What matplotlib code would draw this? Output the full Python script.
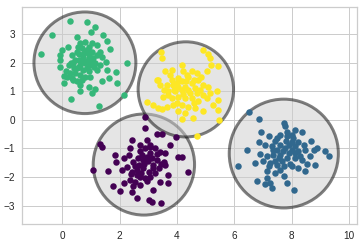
import numpy as np
import matplotlib
matplotlib.use("Agg")
import matplotlib.pyplot as plt

# точки кластеров (x, y)
green_x = [0.28, 0.88, 1.13, 1.00, -0.34, 1.42, -0.74, 0.50, 1.56, 1.67,
           2.26, 1.88, 1.64, 1.92, 1.37, 2.15, 1.28, 0.30, 0.63, 1.03,
           1.15, 0.95, 0.05, 0.08, -0.07, -0.09, -0.01, 0.20, 0.34, 0.39,
           0.53, 0.70, 0.63, 0.28, 0.14, 1.56, 1.51, 1.32, 1.21, 1.32,
           1.21, 1.03, 0.80, 0.63, 0.69, 0.86, 1.03, 0.51, 0.74, 0.92,
           1.09, 0.57, 0.39, 0.22, 0.63, 0.80, 0.98, 1.15, 0.51, 0.74,
           0.92, 0.45, 0.63, 0.80, 0.16, 0.34, 0.98, 1.38, -0.07,
           0.60, 0.75, 0.95, 0.70, 0.88, 1.05, 0.45, 0.60, 0.85, 1.10,
           0.40, 0.30, 1.20, 0.55, 0.95]
green_y = [3.45, 3.41, 3.25, 3.05, 2.97, 2.96, 2.31, 2.90, 2.76, 2.48,
           1.97, 1.66, 1.45, 1.28, 1.37, 0.85, 0.48, 0.72, 0.99, 0.93,
           1.08, 1.14, 1.54, 1.30, 2.09, 1.86, 2.44, 2.53, 2.25, 1.39,
           1.37, 1.39, 1.22, 1.63, 1.69, 1.74, 2.01, 1.92, 1.74, 2.38,
           2.61, 2.67, 2.73, 2.67, 2.50, 2.44, 2.38, 2.38, 2.21, 2.15,
           2.15, 2.09, 1.97, 1.92, 1.92, 1.97, 1.92, 1.97, 1.80, 1.74,
           1.69, 1.63, 1.57, 1.51, 1.51, 1.45, 1.51, 2.21, 2.26,
           2.30, 2.35, 2.30, 2.05, 2.05, 2.05, 2.10, 1.85, 1.80, 1.85,
           1.80, 2.00, 2.25, 2.55, 2.55]

yellow_x = [3.44, 3.48, 4.89, 5.09, 5.15, 5.18, 5.44, 5.03, 4.16, 4.22,
            3.58, 3.75, 4.51, 4.68, 4.39, 4.04, 3.34, 3.40, 3.64, 3.87,
            4.16, 4.51, 4.74, 4.91, 5.09, 5.38, 5.15, 4.91, 4.68, 4.39,
            4.16, 3.93, 3.69, 3.52, 3.81, 4.04, 4.28, 4.51, 4.74, 5.03,
            5.44, 5.26, 5.44, 5.46, 2.97, 3.17, 3.34, 3.46, 3.64, 3.87,
            4.16, 4.39, 4.62, 4.04, 4.28, 4.56, 4.16, 4.91, 4.71, 3.81,
            4.28, 4.04, 4.62, 3.81, 3.30,
            4.00, 4.30, 4.60, 3.90, 4.45, 4.80, 3.70, 4.20, 4.60, 4.00,
            3.55, 4.85, 4.35]
yellow_y = [2.36, 2.15, 2.44, 2.30, 2.15, 1.92, 1.88, 1.72, 1.92, 1.69,
            1.69, 1.57, 1.69, 1.63, 1.51, 1.45, 1.39, 1.22, 1.22, 1.22,
            1.34, 1.28, 1.39, 1.22, 1.16, 0.99, 0.93, 0.87, 0.93, 1.05,
            1.05, 0.99, 0.99, 0.81, 0.76, 0.81, 0.76, 0.76, 0.64, 0.76,
            0.70, 0.52, 0.35, -0.02, 0.62, 0.52, 0.41, 0.37, 0.46, 0.52,
            0.52, 0.46, 0.41, 0.29, 0.23, 0.06, 0.02, 0.29, -0.55, 1.74,
            1.16, 1.16, 1.10, 1.39, 1.39,
            1.30, 1.35, 1.40, 1.05, 0.95, 1.05, 0.85, 0.90, 0.60, 0.60,
            1.05, 1.50, 1.55]

purple_x = [2.87, 2.89, 1.32, 1.38, 1.09, 1.61, 1.77, 2.00, 2.43, 3.30,
            3.47, 3.97, 3.76, 4.05, 4.37, 3.70, 3.70, 3.41, 3.18, 3.45,
            3.01, 3.13, 2.60, 2.43, 2.14, 2.37, 1.85, 1.88, 2.14, 2.31,
            2.08, 2.25, 2.43, 2.60, 2.48, 2.66, 2.83, 3.01, 2.72, 2.89,
            3.07, 3.24, 3.41, 3.59, 2.78, 2.95, 3.13, 3.30, 3.53, 3.18,
            3.36, 3.59, 2.72, 2.89, 3.07, 2.54, 2.72, 2.48, 4.17, 2.37,
            2.95, 3.07, 2.83, 3.24, 2.60,
            2.70, 3.00, 2.85, 3.15, 2.55, 2.75, 3.30, 2.95, 3.45, 2.40,
            3.05, 2.65]
purple_y = [0.10, -0.30, -0.86, -0.94, -1.75, -1.79, -2.30, -2.48, -0.71, -0.48,
            -0.48, -0.59, -0.88, -1.31, -1.81, -1.93, -2.22, -2.16, -2.45, -2.92,
            -2.80, -2.86, -2.72, -2.51, -2.22, -2.10, -1.23, -1.46, -1.35, -1.23,
            -1.75, -1.64, -1.81, -1.93, -1.46, -1.58, -1.70, -1.81, -0.88, -1.00,
            -0.88, -1.00, -1.11, -1.17, -1.23, -1.29, -1.35, -1.40, -1.46, -1.58,
            -1.70, -1.58, -1.99, -2.04, -1.99, -2.16, -2.28, -2.33, -1.29, -1.00,
            -0.71, -1.17, -1.40, -1.87, -1.75,
            -1.10, -1.45, -1.55, -1.70, -1.60, -1.85, -1.20, -2.15, -1.55, -1.90,
            -0.95, -1.35]

blue_x = [6.49, 6.87, 6.43, 6.14, 6.78, 7.07, 7.31, 8.06, 7.83, 7.71,
          7.77, 8.12, 8.35, 8.68, 8.87, 9.14, 9.28, 8.82, 8.52, 8.47,
          6.93, 6.84, 7.19, 7.48, 7.83, 8.00, 8.23, 8.41, 7.07, 7.31,
          7.60, 7.77, 8.00, 8.23, 8.64, 6.90, 7.13, 7.36, 7.60, 7.83,
          8.12, 8.35, 6.72, 7.01, 7.25, 7.48, 7.71, 8.00, 8.23, 7.13,
          7.42, 7.71, 7.13, 7.25, 7.83, 8.00, 7.60, 7.89, 8.12, 7.42,
          7.65, 8.76, 8.47,
          7.50, 7.70, 7.90, 8.10, 7.35, 7.55, 7.95, 7.80, 8.30, 7.20,
          7.60, 8.05, 7.40]
blue_y = [0.27, 0.03, -1.05, -1.63, -2.13, -2.26, -2.38, -2.44, -2.21, -0.12,
          -0.23, -0.35, -0.41, -0.73, -0.99, -1.10, -1.25, -1.59, -1.54, -1.80,
          -0.43, -0.76, -0.58, -0.64, -0.58, -0.76, -0.76, -0.87, -0.87, -0.93,
          -0.87, -0.99, -1.05, -1.10, -1.28, -1.20, -1.28, -1.22, -1.22, -1.34,
          -1.34, -1.39, -1.51, -1.45, -1.51, -1.57, -1.63, -1.63, -1.68, -1.80,
          -1.86, -1.97, -2.03, -2.21, -0.41, -0.52, -0.52, -0.87, -0.93, -1.45,
          -1.45, -1.05, -1.05,
          -1.05, -1.10, -1.15, -1.15, -1.05, -1.35, -1.55, -0.75, -1.25, -1.60,
          -1.75, -0.65, -0.75]

CLUSTERS = [
    (purple_x, purple_y, "#440154"),
    (blue_x, blue_y, "#31688e"),
    (green_x, green_y, "#35b779"),
    (yellow_x, yellow_y, "#fde725"),
]

X_TICKS = [0, 2, 4, 6, 8, 10]
Y_TICKS = [-3, -2, -1, 0, 1, 2, 3]

plt.rcParams["font.family"] = ["Liberation Sans", "DejaVu Sans"]

fig = plt.figure(figsize=(364 / 72, 244 / 72), dpi=72)
ax = fig.add_axes([22.3 / 364, 20.3 / 244, 335 / 364, 216.4 / 244])
ax.set_facecolor("white")
for sp in ax.spines.values():
    sp.set_color("#cccccc")
    sp.set_linewidth(1.25)
ax.grid(True, color="#cccccc", lw=1)
ax.set_axisbelow(True)
ax.tick_params(length=0, labelsize=10, labelcolor="#262626", pad=7)

for xs, ys, col in CLUSTERS:
    pts = np.column_stack([xs, ys])
    ax.scatter(pts[:, 0], pts[:, 1], s=42, c=col, zorder=2, linewidths=0)
    # круг: центр кластера и максимальное удаление точки
    center = pts.mean(axis=0)
    r = np.sqrt(((pts - center) ** 2).sum(axis=1)).max()
    ax.add_patch(plt.Circle(center, r, fc="#CCCCCC", ec="black", lw=3,
                            alpha=0.5, zorder=1))

ax.set_xticks(X_TICKS)
ax.set_yticks(Y_TICKS)
ax.set_xlim(-1.39, 10.28)
ax.set_ylim(-3.63, 3.93)

fig.savefig("out.png", dpi=72)
